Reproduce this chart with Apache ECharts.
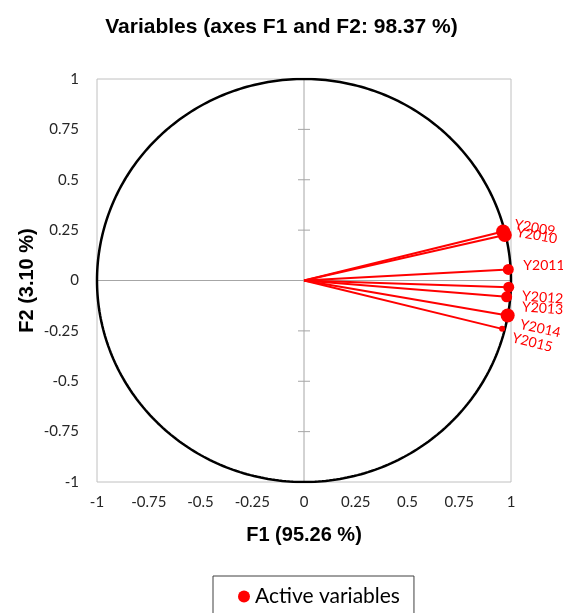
<!DOCTYPE html>
<html>
<head>
<meta charset="utf-8">
<title>Variables (axes F1 and F2: 98.37 %)</title>
<script src="https://cdn.jsdelivr.net/npm/echarts@6/dist/echarts.min.js"></script>
<style>
  html, body { margin: 0; padding: 0; background: #ffffff; }
  #chart { width: 563px; height: 613px; }
</style>
</head>
<body>
<div id="chart"></div>
<script>
// Correlations of each variable with the first two factors
const variables = ['Y2009', 'Y2010', 'Y2011', 'Y2012', 'Y2013', 'Y2014', 'Y2015'];
const f1 = [0.962, 0.970, 0.987, 0.989, 0.979, 0.984, 0.957];
const f2 = [0.243, 0.226, 0.055, -0.033, -0.081, -0.174, -0.240];

// Tick values shared by both axes
const tickValues = [-1, -0.75, -0.5, -0.25, 0, 0.25, 0.5, 0.75, 1];
const tickLabels = ['-1', '-0.75', '-0.5', '-0.25', '0', '0.25', '0.5', '0.75', '1'];

// Marker and label look for each variable
const pointStyle = {
  Y2009: { size: 14, offset: [10, -9], rotate: -10 },
  Y2010: { size: 14, offset: [11, -5], rotate: -10 },
  Y2011: { size: 11, offset: [15, -4], rotate: 0 },
  Y2012: { size: 11, offset: [14, 8], rotate: -4 },
  Y2013: { size: 11, offset: [16, 9], rotate: -4 },
  Y2014: { size: 14, offset: [14, 6], rotate: -12 },
  Y2015: { size: 6, offset: [12, 6], rotate: -14 }
};

const RED = '#ff0000';
const tickFont = 'Lato, "Noto Sans", sans-serif';
const boldFont = '"Liberation Sans", Arial, sans-serif';

function tickText(v) {
  const i = tickValues.findIndex(t => Math.abs(t - v) < 1e-9);
  return i >= 0 ? tickLabels[i] : '';
}

// Unit correlation circle
const circle = [];
for (let a = 0; a <= 360; a += 1) {
  const r = a * Math.PI / 180;
  circle.push([Math.cos(r), Math.sin(r)]);
}

const vectors = variables.map((name, i) => ({ coords: [[0, 0], [f1[i], f2[i]]] }));

const points = variables.map((name, i) => {
  const s = pointStyle[name];
  return {
    name: name,
    value: [f1[i], f2[i]],
    symbolSize: s.size,
    label: {
      show: true,
      formatter: name,
      position: 'inside',
      align: 'left',
      verticalAlign: 'middle',
      offset: s.offset,
      rotate: s.rotate,
      color: RED,
      fontFamily: tickFont,
      fontSize: 14
    }
  };
});

const chart = echarts.init(document.getElementById('chart'), null, { renderer: 'canvas' });

chart.setOption({
  animation: false,
  backgroundColor: '#ffffff',
  title: {
    text: 'Variables (axes F1 and F2: 98.37 %)',
    left: 'center',
    top: 12,
    textStyle: { fontFamily: boldFont, fontWeight: 'bold', fontSize: 21, color: '#000000' }
  },
  legend: {
    data: [{ name: 'Active variables', icon: 'circle' }],
    left: 213,
    top: 576,
    orient: 'horizontal',
    itemWidth: 12,
    itemHeight: 12,
    padding: [10, 14, 24, 25],
    borderColor: '#404040',
    borderWidth: 1,
    itemStyle: { opacity: 1 },
    textStyle: { fontFamily: tickFont, fontSize: 21, color: '#000000' }
  },
  grid: {
    left: 97,
    top: 79,
    width: 414,
    height: 403,
    show: true,
    borderColor: '#c0c0c0',
    borderWidth: 1,
    backgroundColor: 'transparent'
  },
  xAxis: {
    type: 'value',
    min: -1,
    max: 1,
    interval: 0.25,
    name: 'F1 (95.26 %)',
    nameLocation: 'middle',
    nameGap: 43,
    nameMoveOverlap: false,
    nameTextStyle: { fontFamily: boldFont, fontWeight: 'bold', fontSize: 20, color: '#000000' },
    axisLine: { show: false, onZero: false },
    axisTick: { show: false },
    splitLine: { show: false },
    axisLabel: {
      margin: 13,
      fontFamily: tickFont,
      fontSize: 15,
      color: '#262626',
      formatter: tickText
    }
  },
  yAxis: {
    type: 'value',
    min: -1,
    max: 1,
    interval: 0.25,
    name: 'F2 (3.10 %)',
    nameLocation: 'middle',
    nameGap: 60,
    nameMoveOverlap: false,
    nameTextStyle: { fontFamily: boldFont, fontWeight: 'bold', fontSize: 20, color: '#000000' },
    axisLine: { show: false, onZero: false },
    axisTick: { show: false },
    splitLine: { show: false },
    axisLabel: {
      margin: 18,
      fontFamily: tickFont,
      fontSize: 15,
      color: '#262626',
      formatter: tickText
    }
  },
  series: [
    {
      // Zero lines through the origin, with ticks on the vertical one
      type: 'custom',
      silent: true,
      z: 1,
      data: [[0, 0]],
      renderItem: function (params, api) {
        const lineStyle = { stroke: '#a6a6a6', lineWidth: 1 };
        const left = api.coord([-1, 0]);
        const right = api.coord([1, 0]);
        const top = api.coord([0, 1]);
        const bottom = api.coord([0, -1]);
        const children = [
          { type: 'line', shape: { x1: left[0], y1: left[1], x2: right[0], y2: right[1] }, style: lineStyle },
          { type: 'line', shape: { x1: top[0], y1: top[1], x2: bottom[0], y2: bottom[1] }, style: lineStyle }
        ];
        tickValues.forEach(function (v) {
          if (v === 0 || Math.abs(v) === 1) return;
          const p = api.coord([0, v]);
          children.push({
            type: 'line',
            shape: { x1: p[0] - 6, y1: p[1], x2: p[0] + 6, y2: p[1] },
            style: lineStyle
          });
        });
        return { type: 'group', children: children };
      }
    },
    {
      // Correlation circle
      type: 'line',
      silent: true,
      z: 2,
      data: circle,
      showSymbol: false,
      smooth: false,
      lineStyle: { color: '#000000', width: 2.5 },
      tooltip: { show: false }
    },
    {
      // Variable vectors from the origin
      type: 'lines',
      coordinateSystem: 'cartesian2d',
      silent: true,
      z: 3,
      data: vectors,
      lineStyle: { color: RED, width: 2, opacity: 1 }
    },
    {
      name: 'Active variables',
      type: 'scatter',
      z: 4,
      symbol: 'circle',
      itemStyle: { color: RED, opacity: 1 },
      data: points
    }
  ]
});
</script>
</body>
</html>
